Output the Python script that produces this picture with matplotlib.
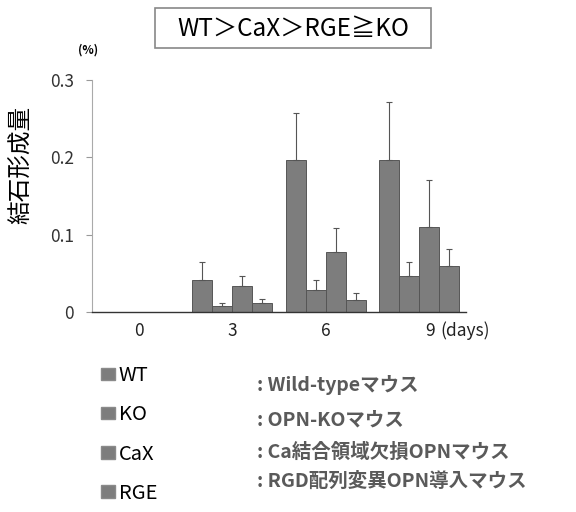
import numpy as np
import matplotlib.pyplot as plt
import matplotlib.transforms as mtransforms
from matplotlib.patches import Patch, Rectangle

plt.rcParams['font.family'] = ['Noto Sans CJK JP', 'DejaVu Sans']

# === data ===
days = ["0", "3", "6", "9"]
groups = ["WT", "KO", "CaX", "RGE"]
wt = [0.0, 0.042, 0.196, 0.196]
ko = [0.0, 0.008, 0.029, 0.046]
cax = [0.0, 0.034, 0.078, 0.110]
rge = [0.0, 0.012, 0.016, 0.060]
wt_err = [0.0, 0.023, 0.061, 0.076]
ko_err = [0.0, 0.004, 0.013, 0.019]
cax_err = [0.0, 0.013, 0.031, 0.061]
rge_err = [0.0, 0.005, 0.009, 0.021]
descriptions = [
    ": Wild-typeマウス",
    ": OPN-KOマウス",
    ": Ca結合領域欠損OPNマウス",
    ": RGD配列変異OPN導入マウス",
]
title_text = "WT＞CaX＞RGE≧KO"

values = [wt, ko, cax, rge]
errors = [wt_err, ko_err, cax_err, rge_err]

W, H = 576, 512
fig = plt.figure(figsize=(W / 100, H / 100), dpi=100)
ax = fig.add_axes([92 / W, 1 - 312 / H, 374 / W, 232 / H])

x = np.arange(len(days))
width = 0.214
offsets = (np.arange(len(groups)) - 1.5) * width
bar_color = "#7d7d7d"
handles = []
for vals, errs, off, name in zip(values, errors, offsets, groups):
    ax.bar(x + off, vals, width, color=bar_color, edgecolor="#565656",
           linewidth=0.7, zorder=2)
    mask = np.array(vals) > 0
    ax.errorbar((x + off)[mask], np.array(vals)[mask],
                yerr=[np.zeros(mask.sum()), np.array(errs)[mask]],
                fmt="none", ecolor="#555555", elinewidth=0.8, capsize=2.5,
                capthick=0.8, zorder=3)
    handles.append(Patch(facecolor=bar_color, edgecolor="#8a8a8a", label=name))

ax.set_xlim(-0.5, 3.5)
ax.set_ylim(0, 0.3)
ax.set_yticks([0, 0.1, 0.2, 0.3])
ax.set_yticklabels(["0", "0.1", "0.2", "0.3"])
ax.set_xticks(x)
ax.set_xticklabels(days)
ax.tick_params(axis="x", length=0, pad=7, labelsize=12.5, colors="#222222")
ax.tick_params(axis="y", length=4, width=0.8, color="#999999", pad=9,
               labelsize=12.5, labelcolor="#333333")
ax.spines["top"].set_visible(False)
ax.spines["right"].set_visible(False)
ax.spines["left"].set_color("#aaaaaa")
ax.spines["bottom"].set_color("#333333")
ax.spines["bottom"].set_linewidth(1.0)

# last day label sits a little right, followed by the unit
last = ax.get_xticklabels()[-1]
last.set_transform(last.get_transform() +
                   mtransforms.ScaledTranslation(8 / 72, 0, fig.dpi_scale_trans))
ax.annotate("(days)", xy=(3, 0), xycoords=("data", "axes fraction"),
            xytext=(15, -7), textcoords="offset points", ha="left", va="top",
            fontsize=12.5, color="#222222")

ax.set_ylabel("結石形成量", fontsize=17)
ax.yaxis.set_label_coords((33 - 92) / 374, (312 - 165) / 232)
fig.text(78 / W, 1 - 50 / H, "(%)", fontsize=8.5, fontweight="bold",
         ha="left", va="center")

fig.add_artist(Rectangle((155 / W, 1 - 48 / H), 276 / W, 40 / H,
                         transform=fig.transFigure, facecolor="white",
                         edgecolor="#888888", linewidth=1.2))
fig.text(293 / W, 1 - 29 / H, title_text, fontsize=17.5, ha="center",
         va="center")

fig.legend(handles=handles, loc="upper left", bbox_to_anchor=(0.144, 0.322),
           frameon=False, fontsize=14.5, handlelength=0.67, handleheight=0.57,
           handletextpad=0.2, labelspacing=0.9)

desc_y = [385, 420, 452, 481]
for yy, desc in zip(desc_y, descriptions):
    fig.text(257 / W, 1 - yy / H, desc, fontsize=14, fontweight="bold",
             color="#5a5a5a", ha="left", va="center")

fig.savefig("out.png", dpi=100)
